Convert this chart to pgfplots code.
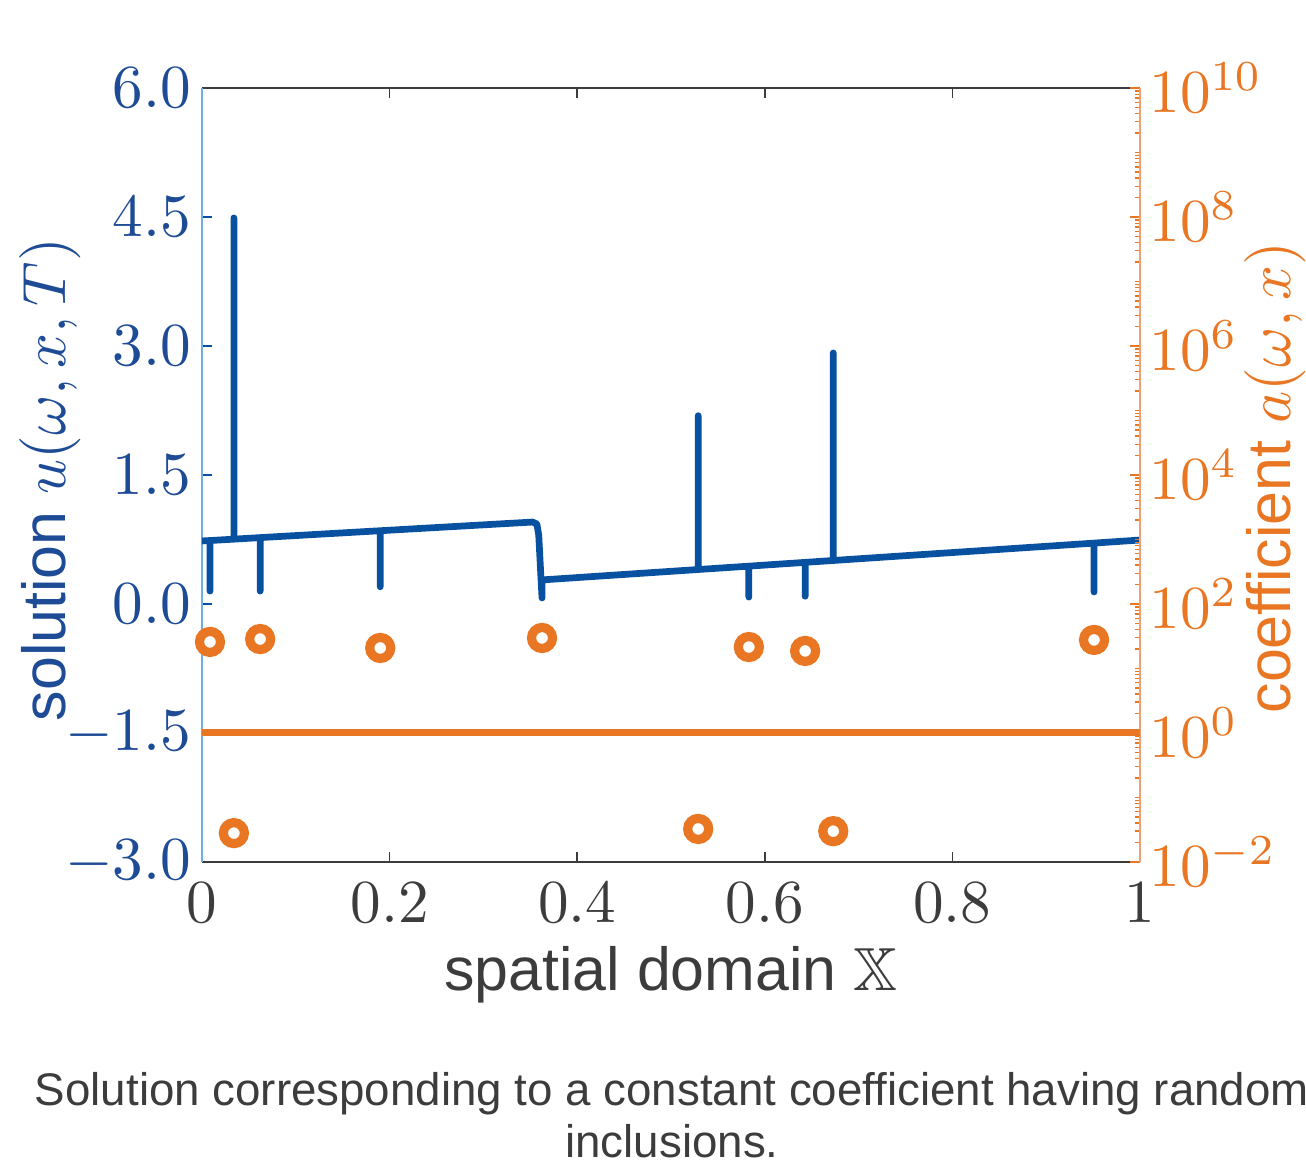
\documentclass[border=0pt]{standalone}
\usepackage{amssymb}
\usepackage{pgfplots}
\pgfplotsset{compat=1.18}
\usepackage{fontspec}
\setsansfont{Liberation Sans}

\definecolor{ublue}{RGB}{8,80,160}
\definecolor{ublueaxis}{RGB}{110,175,230}
\definecolor{ublabel}{RGB}{30,75,150}
\definecolor{aorange}{RGB}{232,118,34}
\definecolor{aorangeaxis}{RGB}{240,160,120}
\definecolor{txtgray}{RGB}{60,60,60}

% minor ticks of the log axis, every decade
\def\mlist{1e10}
\foreach \e in {-2,...,9}{\foreach \m in {1,...,9}{\xdef\mlist{\mlist,\m e\e}}}

\begin{document}
\begin{tikzpicture}
\pgfplotsset{
    every tick label/.append style={font=\fontsize{10}{12}\selectfont},
    tick align=inside,
    major tick length=0.58mm,
    minor tick length=0.29mm,
}
% solution u on the left axis
\begin{axis}[
    width=5.391cm, height=4.448cm, scale only axis,
    xmin=0, xmax=1, ymin=-3, ymax=6,
    axis y line*=left,
    xtick={0,0.2,0.4,0.6,0.8,1},
    ytick={-3,-1.5,0,1.5,3,4.5,6},
    yticklabel style={/pgf/number format/fixed, /pgf/number format/fixed zerofill,
        /pgf/number format/precision=1, text=ublabel, xshift=0.6mm},
    xticklabel style={text=txtgray},
    xtick style={txtgray, line width=0.23pt},
    ytick style={ublue, line width=0.23pt},
    x axis line style={txtgray, line width=0.35pt},
    y axis line style={ublueaxis, line width=0.23pt},
    xlabel={\sffamily spatial domain $\mathbb{X}$},
    xlabel style={text=txtgray, font=\fontsize{9.95}{12}\selectfont,
        at={(axis description cs:0.5,-0.146)}, anchor=center},
    ylabel={\sffamily solution $u(\omega,x,T)$},
    ylabel style={text=ublabel, font=\fontsize{9.95}{12}\selectfont,
        at={(axis description cs:-0.162,0.494)}, anchor=center},
]
\addplot[ublue, line width=1.1pt, line cap=round, line join=round] coordinates {
    (0,0.733)
    (0.0085,0.738) (0.0085,0.15) (0.0085,0.738)
    (0.034,0.754) (0.034,4.49) (0.034,0.754)
    (0.062,0.772) (0.062,0.15) (0.062,0.772)
    (0.19,0.852) (0.19,0.2) (0.19,0.852)
    (0.3525,0.953) (0.357,0.93) (0.359,0.80) (0.3625,0.07) (0.3625,0.28)
    (0.529,0.401) (0.529,2.19) (0.529,0.401)
    (0.583,0.44) (0.583,0.08) (0.583,0.44)
    (0.643,0.484) (0.643,0.09) (0.643,0.484)
    (0.673,0.506) (0.673,2.92) (0.673,0.506)
    (0.951,0.708) (0.951,0.14) (0.951,0.708)
    (1,0.744)
};
\end{axis}
% coefficient a on the right log axis
\begin{axis}[
    width=5.391cm, height=4.448cm, scale only axis,
    xmin=0, xmax=1, ymode=log, ymin=1e-2, ymax=1e10,
    axis x line=none, axis y line*=right,
    ytick={1e-2,1,1e2,1e4,1e6,1e8,1e10},
    minor ytick/.expanded={\mlist},
    yticklabel style={text=aorange, xshift=-0.7mm},
    ytick style={aorange, line width=0.23pt},
    y axis line style={aorangeaxis, line width=0.29pt},
    ylabel={\sffamily coefficient $a(\omega,x)$},
    ylabel style={text=aorange, font=\fontsize{9.95}{12}\selectfont,
        at={(axis description cs:1.144,0.497)}, anchor=center},
]
\addplot[aorange, line width=1.15pt] coordinates {(0,1) (1,1)};
\addplot[only marks, mark=*, mark size=1.72pt,
    mark options={draw=aorange, fill=white, line width=1.5pt}] coordinates {
    (0.0085,25.8) (0.062,28.6) (0.19,20.8) (0.3625,29.7)
    (0.583,21.5) (0.643,18.7) (0.951,27.7)
    (0.034,0.028) (0.529,0.0325) (0.673,0.030)
};
\end{axis}
\node[anchor=base, font=\sffamily\fontsize{7.47}{9}\selectfont, text=txtgray]
    at (2.701cm,-1.402cm) {Solution corresponding to a constant coefficient having random};
\node[anchor=base, font=\sffamily\fontsize{7.47}{9}\selectfont, text=txtgray]
    at (2.701cm,-1.701cm) {inclusions.};
\pgfresetboundingbox
\path[use as bounding box] (-1.161cm,-1.764cm) rectangle (6.345cm,4.954cm);
\end{tikzpicture}
\end{document}
